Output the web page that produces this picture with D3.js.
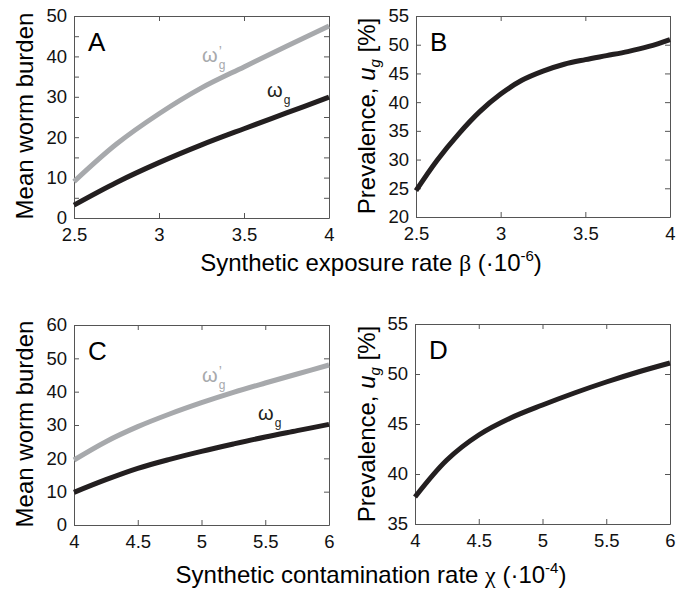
<!DOCTYPE html>
<html>
<head>
<meta charset="utf-8">
<script src="https://cdn.jsdelivr.net/npm/d3@7"></script>
<style>
  body { margin: 0; background: #fff; }
  svg { display: block; font-family: 'Liberation Sans', Arial, sans-serif; }
</style>
</head>
<body>
<div id="chart"></div>
<script>
// panel A/B : synthetic exposure rate beta (x 1e-6)
const exposure = [2.5, 2.75, 3, 3.25, 3.5, 3.75, 4];
const wormExpo = [3.2, 8.8, 13.7, 18.1, 22.1, 26.0, 29.9];
const wormExpoPrime = [9.0, 18.3, 25.8, 32.2, 37.4, 42.5, 47.5];

const exposureB = [2.5, 2.625, 2.75, 2.875, 3, 3.125, 3.25, 3.375, 3.5, 3.625, 3.75, 3.875, 4];
const prevExpo = [24.6, 29.9, 34.4, 38.3, 41.4, 43.8, 45.4, 46.6, 47.4, 48.1, 48.8, 49.7, 50.9];

// panel C/D : synthetic contamination rate chi (x 1e-4)
const contam = [4, 4.25, 4.5, 4.75, 5, 5.25, 5.5, 5.75, 6];
const wormCont = [9.8, 13.6, 17.0, 19.7, 22.1, 24.3, 26.4, 28.3, 30.2];
const wormContPrime = [19.5, 25.0, 29.5, 33.3, 36.7, 39.8, 42.6, 45.3, 48.0];
const prevCont = [37.7, 41.4, 43.9, 45.6, 46.9, 48.1, 49.2, 50.2, 51.1];

// ticks
const ticksExpoX = [2.5, 3, 3.5, 4];
const ticksContX = [4, 4.5, 5, 5.5, 6];
const ticksWormA = d3.range(0, 51, 5);
const ticksPrevB = d3.range(20, 56, 5);
const ticksWormC = d3.range(0, 61, 10);
const ticksPrevD = d3.range(35, 56, 5);

const W = 677, H = 592;
const black = '#231f20', grey = '#a7a9ac';

const svg = d3.select('#chart').append('svg')
  .attr('width', W).attr('height', H);
svg.append('rect').attr('width', W).attr('height', H).attr('fill', '#fff');

function panel(o) {
  const x = d3.scaleLinear().domain(o.xd).range([o.l, o.r]);
  const y = d3.scaleLinear().domain(o.yd).range([o.b, o.t]);
  const g = svg.append('g');

  const fmtY = d => (o.yLabelEvery && d % o.yLabelEvery !== 0) ? '' : d;

  const axes = [
    [d3.axisBottom(x).tickValues(o.xt).tickFormat(d => d), `translate(0,${o.b})`, 10],
    [d3.axisTop(x).tickValues(o.xt).tickFormat(''), `translate(0,${o.t})`, 0],
    [d3.axisLeft(y).tickValues(o.yt).tickFormat(fmtY), `translate(${o.l},0)`, 7],
    [d3.axisRight(y).tickValues(o.yt).tickFormat(''), `translate(${o.r},0)`, 0]
  ];
  axes.forEach(([ax, tr, pad]) => {
    const a = g.append('g').attr('transform', tr)
      .call(ax.tickSizeInner(-5).tickSizeOuter(0).tickPadding(pad));
    a.select('.domain').attr('stroke', '#555').attr('stroke-width', 1);
    a.selectAll('.tick line').attr('stroke', '#555');
    a.selectAll('text').attr('font-size', 18.5).attr('fill', '#111')
      .attr('font-family', "'Liberation Sans', Arial, sans-serif");
  });

  const line = d3.line().x(d => x(d[0])).y(d => y(d[1])).curve(d3.curveCatmullRom);
  o.series.forEach(s => {
    g.append('path')
      .datum(d3.zip(s.x, s.y))
      .attr('d', line)
      .attr('fill', 'none')
      .attr('stroke', s.color)
      .attr('stroke-width', 5)
      .attr('stroke-linecap', 'butt');
  });

  g.append('text').text(o.letter)
    .attr('x', o.l + 14).attr('y', o.t + 35)
    .attr('font-size', 26).attr('fill', '#000');

  return { x, y, g, o };
}

const pA = panel({ l: 74, r: 329, t: 16, b: 218, xd: [2.5, 4], yd: [0, 50], xt: ticksExpoX, yt: ticksWormA, yLabelEvery: 10,
  letter: 'A', series: [{ x: exposure, y: wormExpoPrime, color: grey }, { x: exposure, y: wormExpo, color: black }] });
const pB = panel({ l: 416, r: 670, t: 16, b: 217, xd: [2.5, 4], yd: [20, 55], xt: ticksExpoX, yt: ticksPrevB,
  letter: 'B', series: [{ x: exposureB, y: prevExpo, color: black }] });
const pC = panel({ l: 74, r: 329, t: 325, b: 525, xd: [4, 6], yd: [0, 60], xt: ticksContX, yt: ticksWormC,
  letter: 'C', series: [{ x: contam, y: wormContPrime, color: grey }, { x: contam, y: wormCont, color: black }] });
const pD = panel({ l: 415, r: 670, t: 324, b: 524, xd: [4, 6], yd: [35, 55], xt: ticksContX, yt: ticksPrevD,
  letter: 'D', series: [{ x: contam, y: prevCont, color: black }] });

// curve labels
function omega(x, y, color, prime) {
  const t = svg.append('text').attr('x', x).attr('y', y).attr('fill', color).attr('font-size', 20);
  t.append('tspan').text('ω');
  if (prime) t.append('tspan').text('\u2019').attr('font-size', 14).attr('dy', -6).attr('dx', 1);
  t.append('tspan').text('g').attr('font-size', 12).attr('dy', prime ? 13 : 7).attr('dx', prime ? -3 : 1);
}
omega(pA.o.l + 128, 62, grey, true);
omega(pA.o.l + 193, 97, black, false);
omega(pC.o.l + 128, 382, grey, true);
omega(pC.o.l + 184, 420, black, false);

// y titles
function yTitle(x, y, build) {
  const t = svg.append('text')
    .attr('transform', `translate(${x},${y}) rotate(-90)`)
    .attr('text-anchor', 'middle').attr('font-size', 24).attr('fill', '#000');
  build(t);
}
const worm = t => t.text('Mean worm burden');
const prev = t => {
  t.append('tspan').text('Prevalence, ');
  t.append('tspan').text('u').attr('font-style', 'italic');
  t.append('tspan').text('g').attr('font-style', 'italic').attr('font-size', 15).attr('dy', 5);
  t.append('tspan').text(' [%]').attr('dy', -5);
};
yTitle(33, 116, worm);
yTitle(33, 424, worm);
yTitle(375, 116, prev);
yTitle(375, 424, prev);

// x titles
function xTitle(y, label, greek, exp) {
  const t = svg.append('text').attr('x', 371).attr('y', y)
    .attr('text-anchor', 'middle').attr('font-size', 24).attr('fill', '#000');
  t.append('tspan').text(label + ' ');
  t.append('tspan').text(greek).attr('font-family', "'Liberation Serif', serif");
  t.append('tspan').text(' (\u00b710');
  t.append('tspan').text(exp).attr('font-size', 15).attr('dy', -10);
  t.append('tspan').text(')').attr('dy', 10);
}
xTitle(271, 'Synthetic exposure rate', 'β', '-6');
xTitle(583, 'Synthetic contamination rate', 'χ', '-4');
</script>
</body>
</html>
